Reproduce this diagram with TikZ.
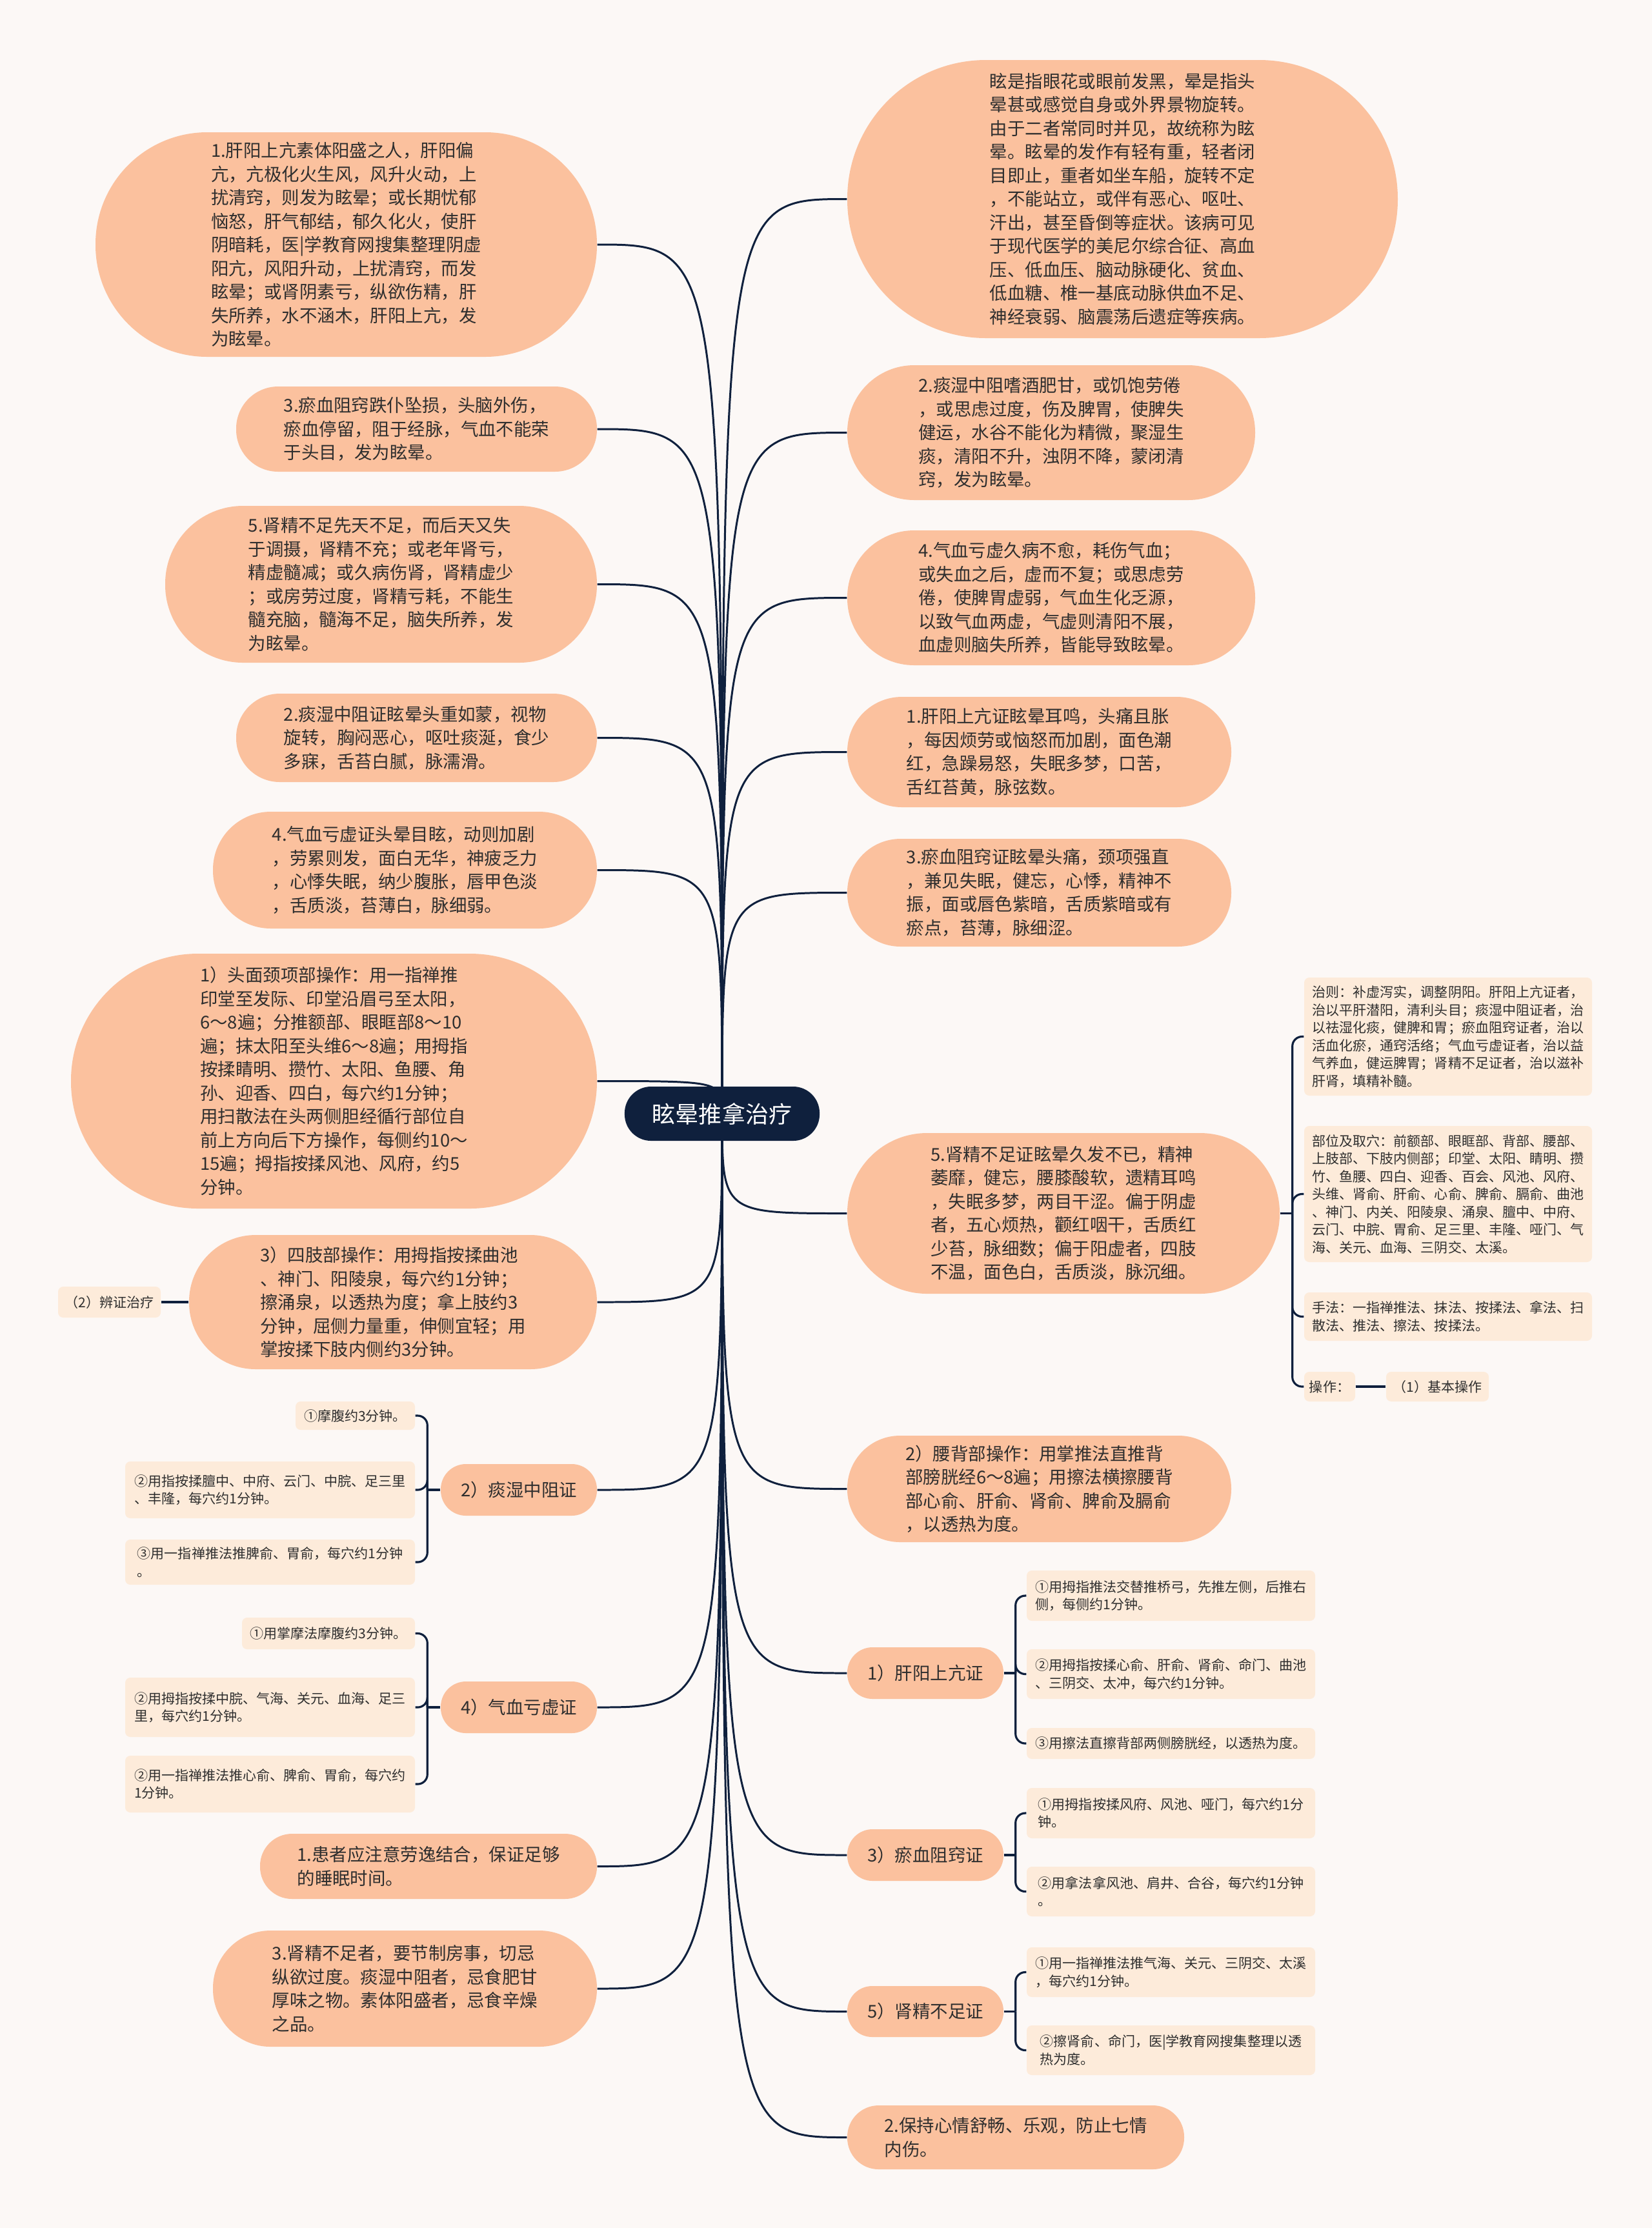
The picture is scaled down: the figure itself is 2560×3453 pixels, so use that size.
\documentclass[tikz,border=0pt]{standalone}
\usepackage{fontspec}
\setmainfont{Noto Sans CJK SC}
\usetikzlibrary{calc}
\definecolor{bgc}{HTML}{FCF8F6}
\definecolor{peach}{HTML}{FBC19E}
\definecolor{cream}{HTML}{FDEBDA}
\definecolor{navy}{HTML}{0F203D}
\definecolor{txt}{HTML}{2E2E2E}
\newcommand\bigfont{\fontsize{7.8pt}{10.38pt}\selectfont}
\newcommand\smallfont{\fontsize{5.98pt}{7.82pt}\selectfont}
\newcommand\ctrfont{\fontsize{10.24pt}{12pt}\selectfont}
\pgfdeclarelayer{back}
\pgfdeclarelayer{edges}
\pgfsetlayers{back,edges,main}
\newcommand\pkbox[6]{\node[pk, minimum width={(#4-#2)*0.01cm}, minimum height={(#5-#3)*0.01cm}, rounded corners={(min(#5-#3,#4-#2)*0.005-0.01)*1cm}] (#1) at ({(#2+#4)/2},{(#3+#5)/2}) {#6};}
\newcommand\crbox[6]{\node[cr, minimum width={(#4-#2)*0.01cm}, minimum height={(#5-#3)*0.01cm}] (#1) at ({(#2+#4)/2},{(#3+#5)/2}) {#6};}
\begin{document}
\begin{tikzpicture}[x=0.01cm,y=-0.01cm,
  conn/.style={draw=navy, line width=0.85pt},
  brk/.style={draw=navy, line width=0.9pt, rounded corners=0.15cm},
  pk/.style={fill=peach, text=txt, align=left, inner sep=0pt, font=\bigfont},
  cr/.style={fill=cream, text=txt, align=left, inner sep=0pt, font=\smallfont, rounded corners=0.08cm},
  ctr/.style={fill=navy, text=white, inner sep=0pt, font=\ctrfont}]
\begin{pgfonlayer}{back}
\fill[bgc] (0,0) rectangle (2560,3453);
\end{pgfonlayer}
\useasboundingbox (0,0) rectangle (2560,3453);

% center
\node[ctr, minimum width=3.02cm, minimum height=0.84cm, rounded corners=0.41cm] (c) at (1119,1726) {眩晕推拿治疗};

% right side
\pkbox{R0}{1313}{93}{2166}{524}{眩是指眼花或眼前发黑，晕是指头\\晕甚或感觉自身或外界景物旋转。\\由于二者常同时并见，故统称为眩\\晕。眩晕的发作有轻有重，轻者闭\\目即止，重者如坐车船，旋转不定\\，不能站立，或伴有恶心、呕吐、\\汗出，甚至昏倒等症状。该病可见\\于现代医学的美尼尔综合征、高血\\压、低血压、脑动脉硬化、贫血、\\低血糖、椎一基底动脉供血不足、\\神经衰弱、脑震荡后遗症等疾病。}
\pkbox{R2}{1313}{566}{1945}{775}{2.痰湿中阻嗜酒肥甘，或饥饱劳倦\\，或思虑过度，伤及脾胃，使脾失\\健运，水谷不能化为精微，聚湿生\\痰，清阳不升，浊阴不降，蒙闭清\\窍，发为眩晕。}
\pkbox{R4}{1313}{822}{1945}{1031}{4.气血亏虚久病不愈，耗伤气血；\\或失血之后，虚而不复；或思虑劳\\倦，使脾胃虚弱，气血生化乏源，\\以致气血两虚，气虚则清阳不展，\\血虚则脑失所养，皆能导致眩晕。}
\pkbox{R1}{1313}{1080}{1908}{1251}{1.肝阳上亢证眩晕耳鸣，头痛且胀\\，每因烦劳或恼怒而加剧，面色潮\\红，急躁易怒，失眠多梦，口苦，\\舌红苔黄，脉弦数。}
\pkbox{R3}{1313}{1300}{1908}{1467}{3.瘀血阻窍证眩晕头痛，颈项强直\\，兼见失眠，健忘，心悸，精神不\\振，面或唇色紫暗，舌质紫暗或有\\瘀点，苔薄，脉细涩。}
\pkbox{R5}{1313}{1756}{1983}{2005}{5.肾精不足证眩晕久发不已，精神\\萎靡，健忘，腰膝酸软，遗精耳鸣\\，失眠多梦，两目干涩。偏于阴虚\\者，五心烦热，颧红咽干，舌质红\\少苔，脉细数；偏于阳虚者，四肢\\不温，面色白，舌质淡，脉沉细。}
\pkbox{RY}{1313}{2225}{1908}{2390}{2）腰背部操作：用掌推法直推背\\部膀胱经6～8遍；用擦法横擦腰背\\部心俞、肝俞、肾俞、脾俞及膈俞\\，以透热为度。}
\pkbox{RG}{1313}{2553}{1555}{2633}{1）肝阳上亢证}
\pkbox{RU}{1313}{2835}{1555}{2915}{3）瘀血阻窍证}
\pkbox{RS}{1313}{3078}{1555}{3157}{5）肾精不足证}
\pkbox{RB}{1313}{3263}{1835}{3362}{2.保持心情舒畅、乐观，防止七情\\内伤。}

% R5 children
\crbox{ZZ}{2021}{1515}{2467}{1698}{治则：补虚泻实，调整阴阳。肝阳上亢证者，\\治以平肝潜阳，清利头目；痰湿中阻证者，治\\以祛湿化痰，健脾和胃；瘀血阻窍证者，治以\\活血化瘀，通窍活络；气血亏虚证者，治以益\\气养血，健运脾胃；肾精不足证者，治以滋补\\肝肾，填精补髓。}
\crbox{BW}{2021}{1745}{2467}{1956}{部位及取穴：前额部、眼眶部、背部、腰部、\\上肢部、下肢内侧部；印堂、太阳、睛明、攒\\竹、鱼腰、四白、迎香、百会、风池、风府、\\头维、肾俞、肝俞、心俞、脾俞、膈俞、曲池\\、神门、内关、阳陵泉、涌泉、膻中、中府、\\云门、中脘、胃俞、足三里、丰隆、哑门、气\\海、关元、血海、三阴交、太溪。}
\crbox{SF}{2021}{2003}{2467}{2078}{手法：一指禅推法、抹法、按揉法、拿法、扫\\散法、推法、擦法、按揉法。}
\crbox{CZ}{2021}{2126}{2100}{2172}{操作：}
\crbox{JB}{2148}{2126}{2307}{2172}{（1）基本操作}

% right leaves
\crbox{G1}{1591}{2434}{2038}{2512}{①用拇指推法交替推桥弓，先推左侧，后推右\\侧，每侧约1分钟。}
\crbox{G2}{1591}{2556}{2038}{2633}{②用拇指按揉心俞、肝俞、肾俞、命门、曲池\\、三阴交、太冲，每穴约1分钟。}
\crbox{G3}{1591}{2678}{2038}{2726}{③用擦法直擦背部两侧膀胱经，以透热为度。}
\crbox{U1}{1591}{2771}{2038}{2849}{①用拇指按揉风府、风池、哑门，每穴约1分\\钟。}
\crbox{U2}{1591}{2893}{2038}{2970}{②用拿法拿风池、肩井、合谷，每穴约1分钟\\。}
\crbox{S1}{1591}{3018}{2038}{3095}{①用一指禅推法推气海、关元、三阴交、太溪\\，每穴约1分钟。}
\crbox{S2}{1591}{3139}{2038}{3216}{②擦肾俞、命门，医|学教育网搜集整理以透\\热为度。}

% left side
\pkbox{L1}{148}{205}{925}{553}{1.肝阳上亢素体阳盛之人，肝阳偏\\亢，亢极化火生风，风升火动，上\\扰清窍，则发为眩晕；或长期忧郁\\恼怒，肝气郁结，郁久化火，使肝\\阴暗耗，医|学教育网搜集整理阴虚\\阳亢，风阳升动，上扰清窍，而发\\眩晕；或肾阴素亏，纵欲伤精，肝\\失所养，水不涵木，肝阳上亢，发\\为眩晕。}
\pkbox{L3}{366}{599}{925}{731}{3.瘀血阻窍跌仆坠损，头脑外伤，\\瘀血停留，阻于经脉，气血不能荣\\于头目，发为眩晕。}
\pkbox{L5}{256}{784}{925}{1027}{5.肾精不足先天不足，而后天又失\\于调摄，肾精不充；或老年肾亏，\\精虚髓减；或久病伤肾，肾精虚少\\；或房劳过度，肾精亏耗，不能生\\髓充脑，髓海不足，脑失所养，发\\为眩晕。}
\pkbox{L2}{366}{1075}{925}{1212}{2.痰湿中阻证眩晕头重如蒙，视物\\旋转，胸闷恶心，呕吐痰涎，食少\\多寐，舌苔白腻，脉濡滑。}
\pkbox{L4}{330}{1258}{925}{1439}{4.气血亏虚证头晕目眩，动则加剧\\，劳累则发，面白无华，神疲乏力\\，心悸失眠，纳少腹胀，唇甲色淡\\，舌质淡，苔薄白，脉细弱。}
\pkbox{LT}{110}{1478}{925}{1873}{1）头面颈项部操作：用一指禅推\\印堂至发际、印堂沿眉弓至太阳，\\6～8遍；分推额部、眼眶部8～10\\遍；抹太阳至头维6～8遍；用拇指\\按揉睛明、攒竹、太阳、鱼腰、角\\孙、迎香、四白，每穴约1分钟；\\用扫散法在头两侧胆经循行部位自\\前上方向后下方操作，每侧约10～\\15遍；拇指按揉风池、风府，约5\\分钟。}
\pkbox{LS}{293}{1914}{925}{2122}{3）四肢部操作：用拇指按揉曲池\\、神门、阳陵泉，每穴约1分钟；\\擦涌泉，以透热为度；拿上肢约3\\分钟，屈侧力量重，伸侧宜轻；用\\掌按揉下肢内侧约3分钟。}
\crbox{LB}{90}{1994}{249}{2042}{（2）辨证治疗}
\pkbox{LTS}{683}{2269}{925}{2349}{2）痰湿中阻证}
\pkbox{LQX}{683}{2606}{925}{2686}{4）气血亏虚证}
\pkbox{LH}{403}{2842}{925}{2943}{1.患者应注意劳逸结合，保证足够\\的睡眠时间。}
\pkbox{LJ}{330}{2992}{925}{3172}{3.肾精不足者，要节制房事，切忌\\纵欲过度。痰湿中阻者，忌食肥甘\\厚味之物。素体阳盛者，忌食辛燥\\之品。}

% left leaves
\crbox{T1}{458}{2172}{643}{2216}{①摩腹约3分钟。}
\crbox{T2}{194}{2265}{643}{2353}{②用指按揉膻中、中府、云门、中脘、足三里\\、丰隆，每穴约1分钟。}
\crbox{T3}{194}{2386}{643}{2456}{③用一指禅推法推脾俞、胃俞，每穴约1分钟\\。}
\crbox{Q1}{375}{2507}{643}{2556}{①用掌摩法摩腹约3分钟。}
\crbox{Q2}{194}{2600}{643}{2692}{②用拇指按揉中脘、气海、关元、血海、足三\\里，每穴约1分钟。}
\crbox{Q3}{194}{2721}{643}{2809}{②用一指禅推法推心俞、脾俞、胃俞，每穴约\\1分钟。}

\begin{pgfonlayer}{edges}
\foreach \n in {R0,R2,R4,R1,R3,R5,RY,RG,RU,RS,RB}
  \draw[conn] (c.center) .. controls (c.center |- \n.west) .. (\n.west);
\foreach \n in {L1,L3,L5,L2,L4,LT,LS,LTS,LQX,LH,LJ}
  \draw[conn] (c.center) .. controls (c.center |- \n.east) .. (\n.east);
% bracket groups
\draw[brk] (R5.east) -- ($(R5.east)+(19,0)$);
\foreach \n in {ZZ,BW,SF,CZ}
  \draw[brk] ($(R5.east)+(19,0)$) |- (\n.west);
\draw[brk] (CZ.east) -- (JB.west);
\draw[brk] (LS.west) -- (LB.east);
\draw[brk] (RG.east) -- ($(RG.east)+(18,0)$);
\foreach \n in {G1,G2,G3}
  \draw[brk] ($(RG.east)+(18,0)$) |- (\n.west);
\draw[brk] (RU.east) -- ($(RU.east)+(18,0)$);
\foreach \n in {U1,U2}
  \draw[brk] ($(RU.east)+(18,0)$) |- (\n.west);
\draw[brk] (RS.east) -- ($(RS.east)+(18,0)$);
\foreach \n in {S1,S2}
  \draw[brk] ($(RS.east)+(18,0)$) |- (\n.west);
\draw[brk] (LTS.west) -- ($(LTS.west)+(-20,0)$);
\foreach \n in {T1,T2,T3}
  \draw[brk] ($(LTS.west)+(-20,0)$) |- (\n.east);
\draw[brk] (LQX.west) -- ($(LQX.west)+(-20,0)$);
\foreach \n in {Q1,Q2,Q3}
  \draw[brk] ($(LQX.west)+(-20,0)$) |- (\n.east);
\end{pgfonlayer}
\end{tikzpicture}
\end{document}
